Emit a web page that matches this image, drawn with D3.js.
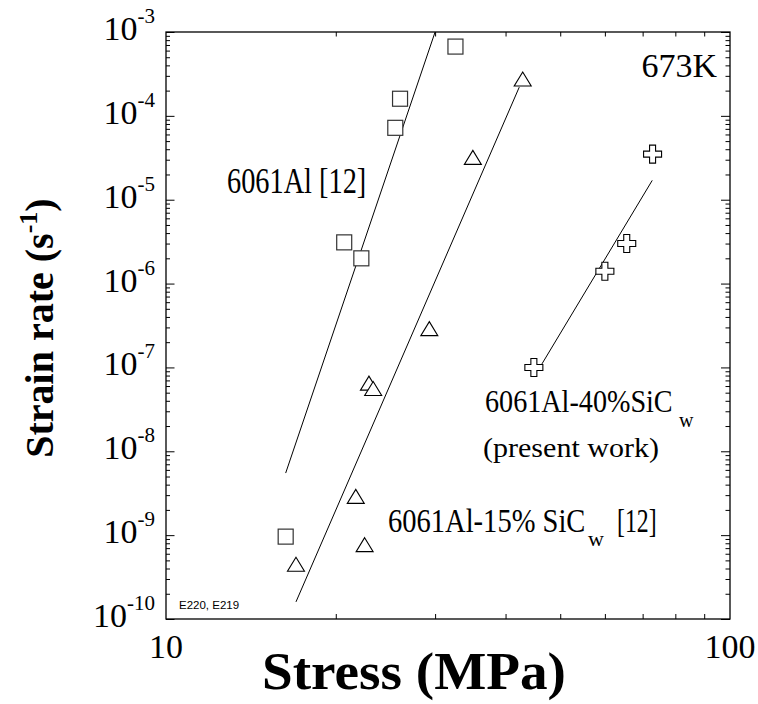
<!DOCTYPE html>
<html>
<head>
<meta charset="utf-8">
<script src="https://cdn.jsdelivr.net/npm/d3@7"></script>
<style>
  body { margin: 0; background: #fff; }
  svg text { font-family: "Liberation Serif", "Times New Roman", serif; fill: #000; }
</style>
</head>
<body>
<div id="chart"></div>
<script>
// data (stress MPa, strain rate 1/s)
let al6061 = [[32.6, 6.7e-4], [26.0, 1.6e-4], [25.5, 7.2e-5], [20.7, 3.1e-6], [22.2, 2.0e-6], [16.3, 9.6e-10]];
let sic15 = [[42.9, 2.75e-4], [35.0, 3.2e-5], [29.3, 2.9e-7], [22.9, 6.5e-8], [23.3, 5.6e-8], [21.7, 2.9e-9], [22.5, 7.7e-10], [17.0, 4.5e-10]];
let sic40 = [[72.9, 3.5e-5], [65.6, 3.0e-6], [60.0, 1.4e-6], [44.9, 1.0e-7]];

// fitted lines (end points)
let fitAl = [[16.3, 5.5e-9], [30.0, 1.0e-3]];
let fit15 = [[17.0, 1.6e-10], [42.3, 2.2e-4]];
let fit40 = [[46.4, 1.1e-7], [72.8, 1.7e-5]];

let xTickLabels = [10, 100];
let yTickExps = [-3, -4, -5, -6, -7, -8, -9, -10];

let W = 758, H = 704;
let margin = {left: 166, top: 32};
let w = 564, h = 587;

let svg = d3.select("#chart").append("svg")
    .attr("width", W)
    .attr("height", H);

let g = svg.append("g").attr("transform", `translate(${margin.left},${margin.top})`);

let x = d3.scaleLog().domain([10, 100]).range([0, w]);
let y = d3.scaleLog().domain([1e-10, 1e-3]).range([h, 0]);

// minor tick values
let xMinor = x.ticks().filter(d => d !== 10 && d !== 100);
let yAll = y.ticks();
let yMajor = yAll.filter(d => Math.abs(Math.log10(d) - Math.round(Math.log10(d))) < 1e-6);
let yMinor = yAll.filter(d => yMajor.indexOf(d) < 0);

function styleAxis(sel) {
    sel.select(".domain").remove();
    sel.selectAll("line").attr("stroke", "#000").attr("stroke-width", 1);
}

g.append("g").attr("transform", `translate(0,${h})`)
    .call(d3.axisBottom(x).tickValues(xMinor).tickSize(-5).tickFormat(""))
    .call(styleAxis);
g.append("g")
    .call(d3.axisTop(x).tickValues(xMinor).tickSize(-4.5).tickFormat(""))
    .call(styleAxis);

g.append("g").call(d3.axisLeft(y).tickValues(yMinor).tickSize(-4).tickFormat("")).call(styleAxis);
g.append("g").call(d3.axisLeft(y).tickValues(yMajor).tickSize(-8.5).tickFormat("")).call(styleAxis);
g.append("g").attr("transform", `translate(${w},0)`)
    .call(d3.axisRight(y).tickValues(yMinor).tickSize(-4.5).tickFormat("")).call(styleAxis);
g.append("g").attr("transform", `translate(${w},0)`)
    .call(d3.axisRight(y).tickValues(yMajor).tickSize(-9).tickFormat("")).call(styleAxis);

// frame
g.append("rect")
    .attr("width", w).attr("height", h)
    .attr("fill", "none").attr("stroke", "#000").attr("stroke-width", 1.3);

// tick labels
g.selectAll(".xlab").data(xTickLabels).enter().append("text")
    .attr("class", "xlab")
    .attr("x", d => x(d))
    .attr("y", h + 39)
    .attr("text-anchor", "middle")
    .attr("font-size", 34)
    .text(d => d);

let yl = g.selectAll(".ylab").data(yTickExps).enter().append("text")
    .attr("class", "ylab")
    .attr("x", -11)
    .attr("y", d => y(Math.pow(10, d)) + 8)
    .attr("text-anchor", "end")
    .attr("font-size", 34);
yl.append("tspan").text("10");
yl.append("tspan").attr("font-size", 21).attr("dy", -17).text(d => "-" + Math.abs(d));

// fit lines
g.append("clipPath").attr("id", "clip").append("rect").attr("width", w).attr("height", h);
let line = d3.line().x(d => x(d[0])).y(d => y(d[1]));
g.append("g").attr("clip-path", "url(#clip)")
    .selectAll("path").data([fitAl, fit15, fit40]).enter().append("path")
    .attr("d", line)
    .attr("fill", "none")
    .attr("stroke", "#000")
    .attr("stroke-width", 1);

// markers
g.selectAll(".sq").data(al6061).enter().append("rect")
    .attr("class", "sq")
    .attr("x", d => x(d[0]) - 7.5)
    .attr("y", d => y(d[1]) - 7.5)
    .attr("width", 15).attr("height", 15)
    .attr("fill", "#fff").attr("stroke", "#333").attr("stroke-width", 1.2);

g.selectAll(".tri").data(sic15).enter().append("path")
    .attr("class", "tri")
    .attr("transform", d => `translate(${x(d[0])},${y(d[1])})`)
    .attr("d", "M0,-7L8.5,7L-8.5,7Z")
    .attr("fill", "#fff").attr("stroke", "#000").attr("stroke-width", 1.1);

let a = 3, b = 9;
let crossPath = `M${-a},${-b}H${a}V${-a}H${b}V${a}H${a}V${b}H${-a}V${a}H${-b}V${-a}H${-a}Z`;
g.selectAll(".cr").data(sic40).enter().append("path")
    .attr("class", "cr")
    .attr("transform", d => `translate(${x(d[0])},${y(d[1])})`)
    .attr("d", crossPath)
    .attr("fill", "#fff").attr("stroke", "#000").attr("stroke-width", 1.1);

// annotations (the original lettering is a bit condensed, hence the x-scale)
function label(px, py, size, sx, str) {
    return svg.append("text")
        .attr("transform", `translate(${px},${py}) scale(${sx},1)`)
        .attr("font-size", size)
        .text(str);
}

svg.append("text").attr("x", 717).attr("y", 77).attr("text-anchor", "end")
    .attr("font-size", 34).text("673K");

label(227, 193, 35, 0.81, "6061Al [12]");

label(485, 412, 32, 0.88, "6061Al-40%SiC");
label(679, 427, 20, 1, "w");
svg.append("text").attr("x", 483).attr("y", 457)
    .attr("font-size", 27).attr("textLength", 176).attr("lengthAdjust", "spacingAndGlyphs")
    .text("(present work)");

label(388, 532, 34, 0.84, "6061Al-15% SiC");
label(588, 546, 22, 1, "w");
label(617, 532, 34, 0.7, "[12]");

svg.append("text").attr("x", 179).attr("y", 609)
    .style("font-family", "'Liberation Sans', Arial, sans-serif")
    .attr("font-size", 11.5).text("E220, E219");

// axis titles
svg.append("text").attr("x", 262).attr("y", 689)
    .attr("font-size", 52).attr("font-weight", "bold")
    .attr("textLength", 304).attr("lengthAdjust", "spacingAndGlyphs")
    .text("Stress (MPa)");

let yt = svg.append("text")
    .attr("transform", "translate(53,328) rotate(-90)")
    .attr("text-anchor", "middle")
    .attr("font-size", 40).attr("font-weight", "bold");
yt.append("tspan").text("Strain rate (s");
yt.append("tspan").attr("font-size", 26).attr("dy", -16).text("-1");
yt.append("tspan").attr("dy", 16).text(")");
</script>
</body>
</html>
